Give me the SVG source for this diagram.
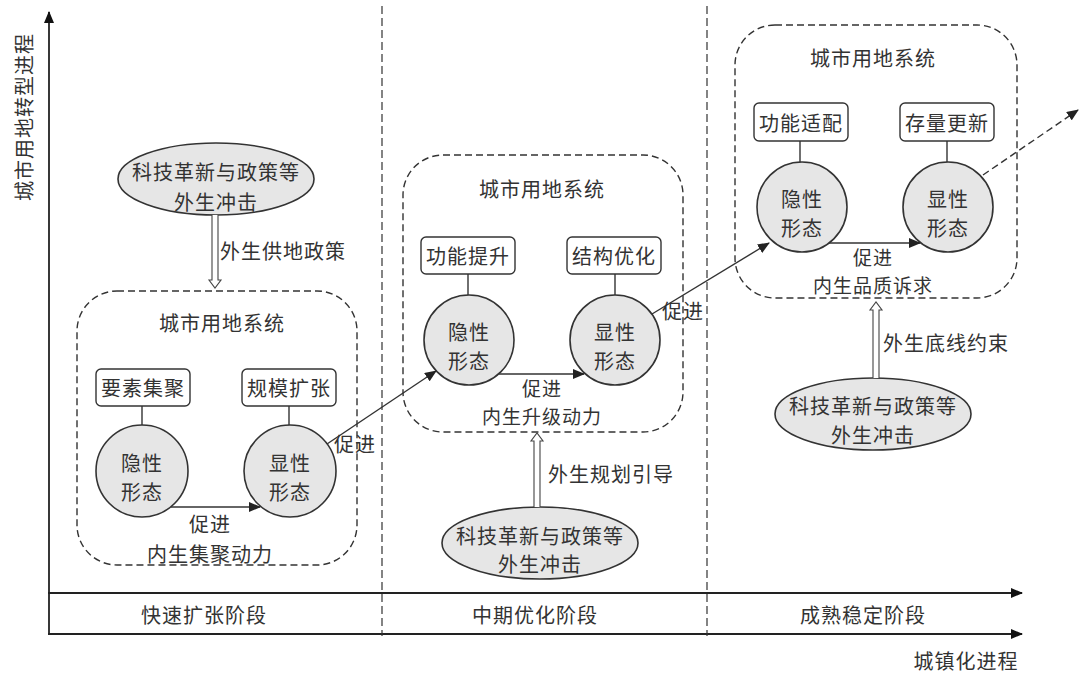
<svg xmlns="http://www.w3.org/2000/svg" width="1084" height="673" viewBox="0 0 1084 673">
<defs>
<style>
text{font-family:"Noto Sans CJK SC","Noto Sans",sans-serif;font-size:20px;fill:#333;text-anchor:middle;dominant-baseline:central;letter-spacing:1px}
.st{text-anchor:start}
.sm{font-size:19px}
.sys{fill:none;stroke:#333;stroke-width:1.4;stroke-dasharray:7 4}
.div{fill:none;stroke:#333;stroke-width:1.2;stroke-dasharray:8 4}
.tag{fill:#fff;stroke:#333;stroke-width:1.4}
.st8{fill:#e6e6e6;stroke:#333;stroke-width:1.6}
.ln{stroke:#333;stroke-width:1.4;fill:none}
.ax{stroke:#222;stroke-width:1.8;fill:none}
.hol{fill:#fff;stroke:#444;stroke-width:1.1}
</style>
<marker id="ah" viewBox="0 0 12 10" refX="11" refY="5" markerWidth="12" markerHeight="10" markerUnits="userSpaceOnUse" orient="auto">
<path d="M0,0 L12,5 L0,10 Z" fill="#222"/>
</marker>
<marker id="ax" viewBox="0 0 12 10" refX="11" refY="5" markerWidth="12" markerHeight="10" markerUnits="userSpaceOnUse" orient="auto">
<path d="M0,0 L12,5 L0,10 Z" fill="#111"/>
</marker>
</defs>
<rect width="1084" height="673" fill="#fff"/>

<g id="axes">
<line class="ax" x1="49" y1="635" x2="49" y2="12" marker-end="url(#ax)"/>
<line class="ax" x1="48" y1="593" x2="1022" y2="593" marker-end="url(#ax)"/>
<line class="ax" x1="48" y1="634" x2="1022" y2="634" marker-end="url(#ax)"/>
<line class="div" x1="382" y1="6" x2="382" y2="636"/>
<line class="div" x1="707" y1="6" x2="707" y2="636"/>
<text transform="translate(23,117) rotate(-90)">城市用地转型进程</text>
<text x="966" y="660">城镇化进程</text>
<text x="204" y="614">快速扩张阶段</text>
<text x="535" y="614">中期优化阶段</text>
<text x="863" y="614">成熟稳定阶段</text>
</g>

<g id="stage1">
<rect class="sys" x="77" y="291" width="280" height="274" rx="40"/>
<text x="222" y="322">城市用地系统</text>
<g id="s1-tag1"><rect class="tag" x="96" y="369" width="94" height="37" rx="5"/><text x="143" y="387">要素集聚</text></g>
<g id="s1-tag2"><rect class="tag" x="242" y="369" width="94" height="37" rx="5"/><text x="289" y="387">规模扩张</text></g>
<line class="ln" x1="142" y1="406" x2="142" y2="425"/>
<line class="ln" x1="289" y1="406" x2="289" y2="425"/>
<g id="s1-hidden"><circle class="st8" cx="142" cy="471" r="46"/><text x="142" y="462">隐性</text><text x="142" y="491">形态</text></g>
<g id="s1-visible"><circle class="st8" cx="290" cy="471" r="46"/><text x="290" y="462">显性</text><text x="290" y="491">形态</text></g>
<text x="210" y="523">促进</text>
<text x="210" y="553">内生集聚动力</text>
</g>

<g id="shock1">
<ellipse class="st8" cx="216" cy="179" rx="98" ry="36"/>
<text x="216" y="171">科技革新与政策等</text>
<text x="216" y="201">外生冲击</text>
</g>

<g id="stage2">
<rect class="sys" x="403" y="155" width="280" height="277" rx="40"/>
<text x="542" y="188">城市用地系统</text>
<g id="s2-tag1"><rect class="tag" x="421" y="237" width="94" height="37" rx="5"/><text x="468" y="255">功能提升</text></g>
<g id="s2-tag2"><rect class="tag" x="567" y="237" width="94" height="37" rx="5"/><text x="614" y="255">结构优化</text></g>
<line class="ln" x1="468" y1="274" x2="468" y2="295"/>
<line class="ln" x1="615" y1="274" x2="615" y2="295"/>
<g id="s2-hidden"><circle class="st8" cx="469" cy="340" r="45"/><text x="469" y="331">隐性</text><text x="469" y="360">形态</text></g>
<g id="s2-visible"><circle class="st8" cx="615" cy="340" r="45"/><text x="615" y="331">显性</text><text x="615" y="360">形态</text></g>
<text class="sm" x="542" y="387">促进</text>
<text class="sm" x="542" y="415">内生升级动力</text>
</g>

<g id="shock2">
<ellipse class="st8" cx="540" cy="543" rx="98" ry="36"/>
<text x="540" y="535">科技革新与政策等</text>
<text x="540" y="563">外生冲击</text>
</g>

<g id="stage3">
<rect class="sys" x="735" y="25" width="282" height="273" rx="40"/>
<text x="873" y="57">城市用地系统</text>
<g id="s3-tag1"><rect class="tag" x="754" y="103" width="94" height="38" rx="5"/><text x="801" y="122">功能适配</text></g>
<g id="s3-tag2"><rect class="tag" x="900" y="103" width="94" height="38" rx="5"/><text x="947" y="122">存量更新</text></g>
<line class="ln" x1="800" y1="141" x2="800" y2="162"/>
<line class="ln" x1="947" y1="141" x2="947" y2="162"/>
<g id="s3-hidden"><circle class="st8" cx="802" cy="207" r="45"/><text x="802" y="198">隐性</text><text x="802" y="227">形态</text></g>
<g id="s3-visible"><circle class="st8" cx="948" cy="207" r="45"/><text x="948" y="198">显性</text><text x="948" y="227">形态</text></g>
<text class="sm" x="873" y="256">促进</text>
<text class="sm" x="873" y="284">内生品质诉求</text>
</g>

<g id="shock3">
<ellipse class="st8" cx="873" cy="414" rx="98" ry="36"/>
<text x="873" y="405">科技革新与政策等</text>
<text x="873" y="434">外生冲击</text>
</g>

<g id="connectors">
<line class="ln" x1="171" y1="507" x2="260" y2="507" marker-end="url(#ah)"/>
<line class="ln" x1="499" y1="374" x2="584" y2="374" marker-end="url(#ah)"/>
<line class="ln" x1="829" y1="243" x2="920" y2="243" marker-end="url(#ah)"/>
<line class="ln" x1="327" y1="444" x2="436" y2="371" marker-end="url(#ah)"/>
<text x="355" y="443">促进</text>
<line class="ln" x1="652" y1="314" x2="769" y2="243" marker-end="url(#ah)"/>
<text x="683" y="310">促进</text>
<line class="ln" x1="983" y1="175" x2="1078" y2="110" stroke-dasharray="7 4" marker-end="url(#ah)"/>
<path class="hol" d="M212,215 L212,280 L209,280 L215,288 L221,280 L218,280 L218,215"/>
<text class="st" x="220" y="250">外生供地政策</text>
<path class="hol" d="M534,507 L534,441 L531,441 L537,433 L543,441 L540,441 L540,507"/>
<text class="st" x="548" y="473">外生规划引导</text>
<path class="hol" d="M873,378 L873,310 L870,310 L876,302 L882,310 L879,310 L879,378"/>
<text class="st" x="883" y="342">外生底线约束</text>
</g>
</svg>
